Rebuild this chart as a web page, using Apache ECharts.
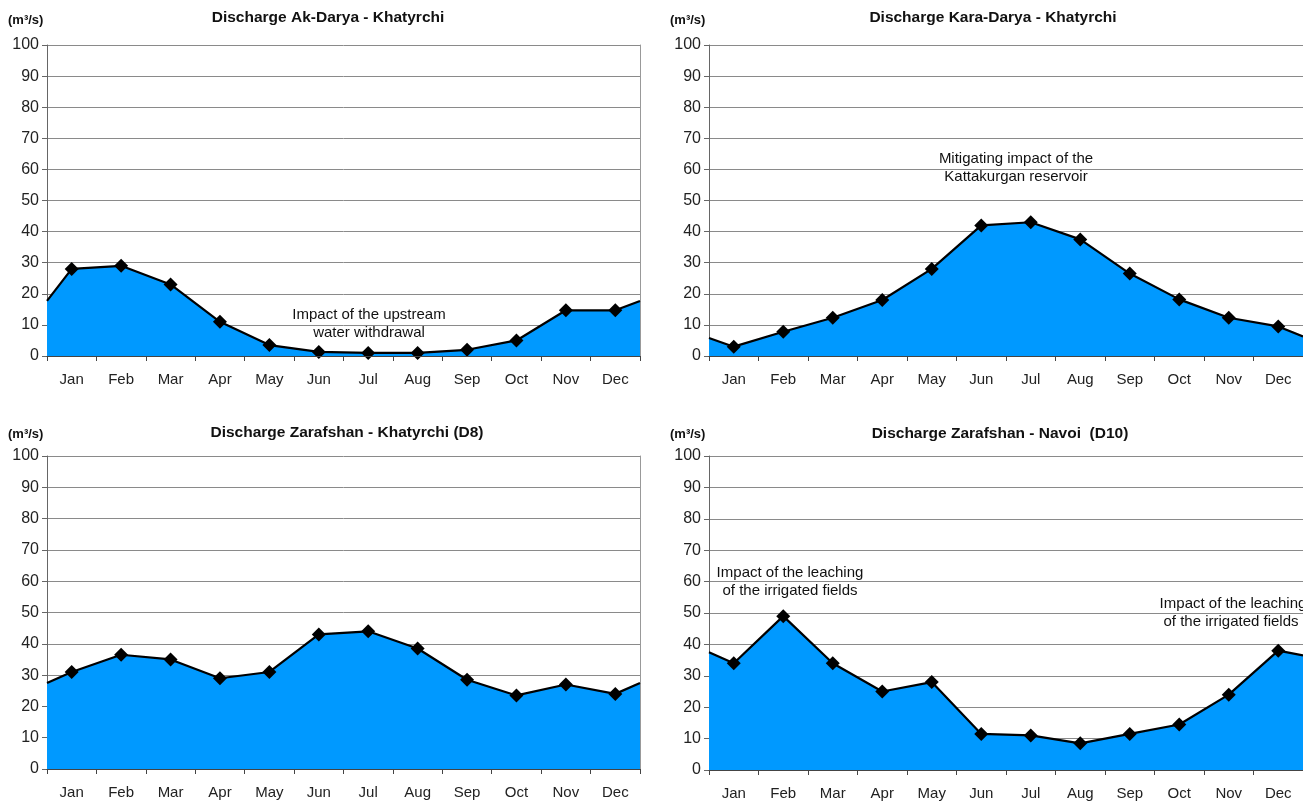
<!DOCTYPE html>
<html><head><meta charset="utf-8">
<script src="https://cdn.jsdelivr.net/npm/echarts@6/dist/echarts.min.js"></script>
<style>html,body{margin:0;padding:0;background:#fff}#c{width:1303px;height:803px}</style>
</head><body><div id="c"></div>
<script>
const months = ['Jan','Feb','Mar','Apr','May','Jun','Jul','Aug','Sep','Oct','Nov','Dec'];
const yTicks = [0,10,20,30,40,50,60,70,80,90,100];

const akDarya = [28, 29, 23, 11, 3.5, 1.3, 1, 1, 2, 5, 14.7, 14.7];
const akDaryaEdges = [17.7, 17.7];
const karaDarya = [3, 7.8, 12.3, 18, 28, 42, 43, 37.5, 26.5, 18.2, 12.3, 9.5];
const karaDaryaEdges = [5.8, 6.3];
const zarKhatyrchi = [31, 36.5, 35, 29, 31, 43, 44, 38.5, 28.5, 23.5, 27, 24];
const zarKhatyrchiEdges = [27.5, 27.5];
const zarNavoi = [34, 49, 34, 25, 28, 11.5, 11, 8.5, 11.5, 14.5, 24, 38];
const zarNavoiEdges = [37.5, 36.5];

const titles = ['Discharge Ak-Darya - Khatyrchi','Discharge Kara-Darya - Khatyrchi','Discharge Zarafshan - Khatyrchi (D8)','Discharge Zarafshan - Navoi  (D10)'];
const unitLabel = '(m³/s)';

const panels = [
  {vals: akDarya, edges: akDaryaEdges, grid: {left: 47, top: 45, width: 593, height: 311}},
  {vals: karaDarya, edges: karaDaryaEdges, grid: {left: 709, top: 45, width: 594, height: 311}},
  {vals: zarKhatyrchi, edges: zarKhatyrchiEdges, grid: {left: 47, top: 456, width: 593, height: 313}},
  {vals: zarNavoi, edges: zarNavoiEdges, grid: {left: 709, top: 456, width: 594, height: 314}}
];

const FONT = '"Liberation Sans", Arial, sans-serif';
const grid = [], xAxis = [], yAxis = [], series = [];
panels.forEach((p, i) => {
  grid.push(Object.assign({containLabel: false}, p.grid));
  xAxis.push({type: 'category', gridIndex: i, data: months, boundaryGap: true,
    axisLine: {show: true, lineStyle: {color: '#444', width: 1}},
    axisTick: {show: true, length: 5, lineStyle: {color: '#444'}},
    axisLabel: {color: '#222', fontSize: 15, fontFamily: FONT, margin: 16},
    splitLine: {show: false}, z: 5});
  xAxis.push({type: 'value', gridIndex: i, min: 0, max: 12, show: false});
  yAxis.push({type: 'value', gridIndex: i, min: 0, max: 100, interval: 10,
    axisLine: {show: true, lineStyle: {color: '#666'}},
    axisTick: {show: true, length: 5, lineStyle: {color: '#666'}},
    axisLabel: {color: '#222', fontSize: 16, fontFamily: FONT, margin: 8},
    splitLine: {show: true, lineStyle: {color: '#8a8a8a', width: 1}}});
  yAxis.push({type: 'value', gridIndex: i, min: 0, max: 100, position: 'right',
    axisLine: {show: true, lineStyle: {color: '#999'}}, axisTick: {show: false},
    axisLabel: {show: false}, splitLine: {show: false}});
  const data = [{value: [0, p.edges[0]], symbol: 'none'}];
  p.vals.forEach((v, k) => data.push({value: [k + 0.5, v]}));
  data.push({value: [12, p.edges[1]], symbol: 'none'});
  series.push({type: 'line', xAxisIndex: 2 * i + 1, yAxisIndex: 2 * i, data,
    symbol: 'diamond', symbolSize: 14, showSymbol: true,
    itemStyle: {color: '#000'}, lineStyle: {color: '#000', width: 2.2},
    areaStyle: {color: '#0099ff', opacity: 1}, z: 3, animation: false});
});

const txt = (x, y, text, opts) => ({type: 'text', x, y, style: Object.assign({text, fill: '#111', font: '15px ' + FONT, textAlign: 'center', textVerticalAlign: 'middle'}, opts || {})});
const bold = 'bold 15.5px ' + FONT;
const unitFont = 'bold 13px ' + FONT;
const graphic = [
  txt(8, 20, unitLabel, {textAlign: 'left', font: unitFont}),
  txt(328, 18, titles[0], {font: bold}),
  txt(670, 20, unitLabel, {textAlign: 'left', font: unitFont}),
  txt(993, 18, titles[1], {font: bold}),
  txt(8, 434, unitLabel, {textAlign: 'left', font: unitFont}),
  txt(347, 433, titles[2], {font: bold}),
  txt(670, 434, unitLabel, {textAlign: 'left', font: unitFont}),
  txt(1000, 434, titles[3], {font: bold}),
  txt(369, 315, 'Impact of the upstream'),
  txt(369, 333, 'water withdrawal'),
  txt(1016, 159, 'Mitigating impact of the'),
  txt(1016, 177, 'Kattakurgan reservoir'),
  txt(790, 573, 'Impact of the leaching'),
  txt(790, 591, 'of the irrigated fields'),
  txt(1233, 604, 'Impact of the leaching'),
  txt(1231, 622, 'of the irrigated fields')
];

const chart = echarts.init(document.getElementById('c'), null, {renderer: 'canvas'});
chart.setOption({animation: false, backgroundColor: '#fff', grid, xAxis, yAxis, series, graphic});
</script></body></html>
